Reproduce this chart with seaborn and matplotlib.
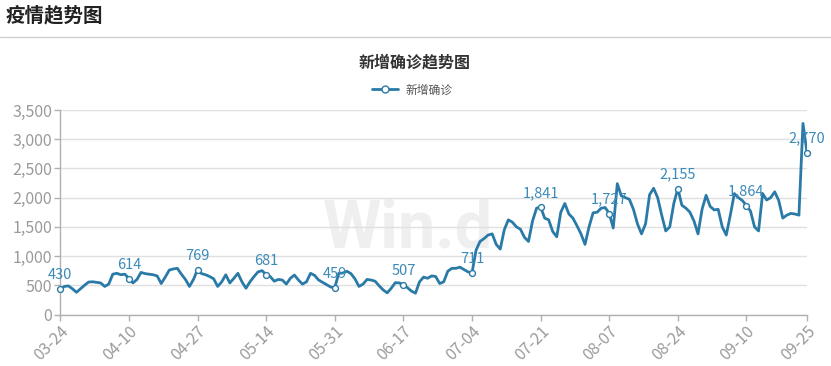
import matplotlib
matplotlib.use("Agg")
import matplotlib.pyplot as plt
import seaborn as sns
import pandas as pd
import numpy as np
from matplotlib.lines import Line2D

# ---- data ----
start_date = "2020-03-24"
values = [
    430, 480, 490, 440, 380, 440, 500, 555, 560, 550,
    540, 480, 520, 690, 705, 680, 690, 614, 540, 600,
    720, 700, 690, 680, 660, 530, 640, 760, 780, 790,
    690, 600, 480, 600, 769, 700, 680, 650, 610, 480,
    560, 680, 540, 620, 705, 560, 450, 560, 650, 730,
    750, 681, 650, 570, 600, 590, 520, 620, 676, 590,
    520, 560, 705, 670, 590, 550, 510, 470, 459, 705,
    710, 740, 700, 610, 480, 520, 600, 590, 570, 490,
    420, 370, 450, 545, 540, 507, 460, 400, 365, 560,
    640, 620, 660, 650, 530, 560, 740, 790, 790, 810,
    770, 730, 711, 1100, 1250, 1300, 1360, 1380, 1200, 1120,
    1450, 1620, 1580, 1500, 1460, 1320, 1250, 1600, 1820, 1841,
    1650, 1620, 1420, 1330, 1750, 1900, 1720, 1650, 1520, 1380,
    1200, 1500, 1740, 1750, 1820, 1830, 1727, 1480, 2240, 2030,
    2000, 1970, 1800, 1550, 1380, 1550, 2050, 2160, 2000, 1700,
    1430, 1500, 1900, 2155, 1870, 1820, 1750, 1600, 1380, 1800,
    2040, 1850, 1790, 1800, 1500, 1360, 1700, 2070, 2000, 1950,
    1864, 1770, 1500, 1430, 2070, 1960, 2000, 2100, 1950, 1650,
    1700, 1730, 1720, 1700, 3270, 2770,
]
dates = pd.date_range(start_date, periods=len(values), freq="D")
labels_all = [d.strftime("%m-%d") for d in dates]
tick_idx = list(range(0, len(values), 17)) + [len(values) - 1]
tick_labels = [labels_all[i] for i in tick_idx]
y_ticks = [0, 500, 1000, 1500, 2000, 2500, 3000, 3500]

series_name = "新增确诊"
chart_title = "新增确诊趋势图"
page_title = "疫情趋势图"
watermark = "Win.d"

df = pd.DataFrame({"idx": np.arange(len(values)), "value": values})
mk = df.iloc[tick_idx]

# ---- style ----
sns.set_theme(style="white")
plt.rcParams["font.family"] = ["Noto Sans CJK SC", "DejaVu Sans"]

line_color = "#2a7aa8"
label_color = "#3c8ab8"
gray = "#9a9a9a"

fig = plt.figure(figsize=(8.31, 3.66), dpi=100)
ax = fig.add_axes([60.3 / 831, 1 - 314.5 / 366, (807 - 60.3) / 831, (314.5 - 110) / 366])
ax.set_axisbelow(True)

# watermark (behind grid and line)
ax.text(408 / 831, 1 - 247 / 366, watermark, transform=fig.transFigure, fontsize=48,
        fontweight="bold", color="#efefef", ha="center", va="baseline", zorder=0.1,
        family="Roboto", clip_on=False)

sns.lineplot(data=df, x="idx", y="value", ax=ax, color=line_color, linewidth=2.0,
             zorder=3, legend=False)
ax.scatter(mk["idx"], mk["value"], s=18, facecolor="white", edgecolor=line_color,
           linewidth=1.0, zorder=4, clip_on=False)
for i, v in zip(mk["idx"], mk["value"]):
    ax.annotate(f"{v:,}", (i, v), xytext=(0, 5), textcoords="offset points",
                ha="center", va="bottom", color=label_color, fontsize=10.5, zorder=5)

ax.set_xlim(0, len(values) - 1)
ax.set_ylim(0, 3500)
ax.set_yticks(y_ticks)
ax.set_yticklabels([f"{t:,}" for t in y_ticks])
ax.set_xticks(tick_idx)
ax.set_xticklabels(tick_labels, rotation=45, ha="right", rotation_mode="anchor")
ax.set_xlabel("")
ax.set_ylabel("")
ax.grid(axis="y", color="#e0e0e0", linewidth=1.0)
ax.grid(axis="x", visible=False)
for s in ["top", "right"]:
    ax.spines[s].set_visible(False)
for s in ["left", "bottom"]:
    ax.spines[s].set_color("#b0b0b0")
    ax.spines[s].set_linewidth(1.0)
ax.tick_params(axis="both", colors="#b0b0b0", labelcolor=gray, labelsize=11.5,
               length=4, width=1, direction="out", left=True, bottom=True, pad=2)

# page header
fig.text(6 / 831, 1 - 16 / 366, page_title, fontsize=14, fontweight="bold",
         color="#222222", ha="left", va="center")
fig.add_artist(plt.Line2D([0, 1], [1 - 37.3 / 366, 1 - 37.3 / 366], color="#d0d0d0",
                          linewidth=1.0, transform=fig.transFigure))
fig.text(415 / 831, 1 - 63 / 366, chart_title, fontsize=11.5, fontweight="bold",
         color="#333333", ha="center", va="center")

# legend
handle = Line2D([], [], color=line_color, linewidth=2, marker="o", markersize=5,
                markerfacecolor="white", markeredgecolor=line_color)
fig.legend([handle], [series_name], loc="center", bbox_to_anchor=(412 / 831, 1 - 90 / 366),
           frameon=False, fontsize=8.5, handlelength=2.2, handletextpad=0.6,
           labelcolor="#555555")

fig.savefig("out.png", dpi=100)
